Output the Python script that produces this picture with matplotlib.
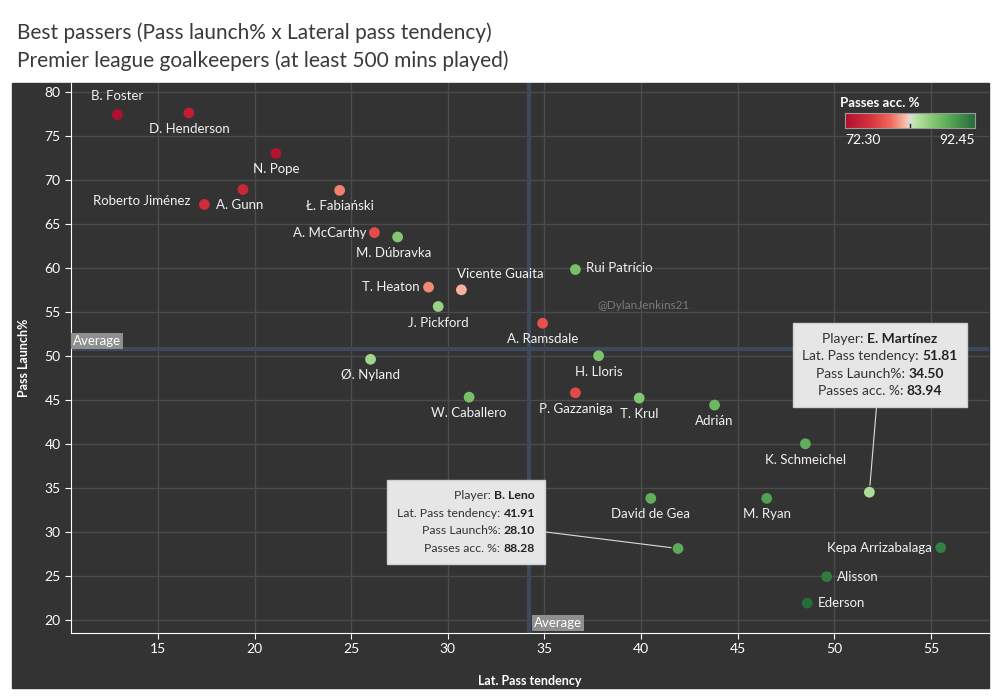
import numpy as np
import matplotlib.pyplot as plt
from matplotlib.colors import LinearSegmentedColormap, Normalize
from matplotlib.patches import Rectangle
from matplotlib.offsetbox import TextArea, HPacker, VPacker, AnnotationBbox

plt.rcParams['font.family'] = ['Lato', 'DejaVu Sans']

# Data
players = ["B. Foster", "D. Henderson", "N. Pope", "A. Gunn", "Roberto Jiménez",
           "Ł. Fabiański", "A. McCarthy", "M. Dúbravka", "Rui Patrício", "Vicente Guaita",
           "T. Heaton", "J. Pickford", "A. Ramsdale", "Ø. Nyland", "H. Lloris",
           "W. Caballero", "P. Gazzaniga", "T. Krul", "Adrián", "K. Schmeichel",
           "E. Martínez", "David de Gea", "M. Ryan", "B. Leno", "Kepa Arrizabalaga",
           "Alisson", "Ederson"]
lat_tendency = [12.9, 16.6, 21.1, 19.4, 17.4,
                24.4, 26.2, 27.4, 36.6, 30.7,
                29.0, 29.5, 34.9, 26.0, 37.8,
                31.1, 36.6, 39.9, 43.8, 48.5,
                51.81, 40.5, 46.5, 41.91, 55.5,
                49.6, 48.6]
pass_launch = [77.4, 77.6, 73.0, 68.9, 67.2,
               68.8, 64.0, 63.5, 59.8, 57.5,
               57.8, 55.6, 53.7, 49.6, 50.0,
               45.3, 45.8, 45.2, 44.4, 40.0,
               34.50, 33.8, 33.8, 28.10, 28.2,
               24.9, 21.9]
pass_acc = [72.3, 74.0, 72.8, 75.0, 75.5,
            80.0, 77.8, 86.0, 86.5, 81.3,
            80.2, 85.0, 78.0, 84.6, 86.3,
            86.6, 77.6, 86.0, 87.3, 88.0,
            83.94, 88.0, 89.0, 88.28, 91.2,
            91.5, 92.45]
acc_min, acc_max = 72.30, 92.45
avg_x, avg_y = 34.2, 50.8

# label offsets (pixels) and alignment
label_pos = {
    "B. Foster": (0, 19, "center"), "Roberto Jiménez": (-14, 3, "right"),
    "A. McCarthy": (-8, 0, "right"), "Rui Patrício": (11, 2, "left"),
    "Vicente Guaita": (-4, 16, "left"), "T. Heaton": (-9, 0, "right"),
    "Kepa Arrizabalaga": (-9, 0, "right"), "Alisson": (10, 0, "left"),
    "Ederson": (10, 0, "left"), "A. Gunn": (-3, -16, "center"),
    "M. Dúbravka": (-4, -16, "center"),
}
no_label = ["E. Martínez", "B. Leno"]

cmap = LinearSegmentedColormap.from_list("rg", [
    (0.0, "#b0102e"), (0.2, "#d9323f"), (0.35, "#f06a5a"), (0.47, "#f9c0ad"),
    (0.5, "#dcdcdc"), (0.55, "#b9e3a2"), (0.7, "#7cc26a"), (0.85, "#4b9a50"),
    (1.0, "#256d3a")])
norm = Normalize(acc_min, acc_max)

dark = "#333333"
fig = plt.figure(figsize=(10, 7), dpi=100, facecolor="white")
fig.patches.append(Rectangle((0.012, 12 / 700), 0.977, (688 - 83) / 700,
                             transform=fig.transFigure, color=dark, zorder=-5))

fig.text(0.017, 0.953, "Best passers (Pass launch% x Lateral pass tendency)",
         fontsize=15, color="#3a3a3a", va="center")
fig.text(0.017, 0.913, "Premier league goalkeepers (at least 500 mins played)",
         fontsize=15, color="#3a3a3a", va="center")

ax = fig.add_axes([0.071, 67 / 700, 0.918, (633 - 83) / 700])
ax.set_facecolor(dark)
ax.set_xlim(10.5, 58)
ax.set_ylim(18.5, 81)
ax.set_xticks(range(15, 60, 5))
ax.set_yticks(range(20, 85, 5))
ax.grid(True, color="#4c4c4c", linewidth=1)
ax.set_axisbelow(True)
for s in ["top", "right"]:
    ax.spines[s].set_visible(False)
for s in ["left", "bottom"]:
    ax.spines[s].set_color("white")
ax.tick_params(colors="white", labelsize=10, length=4)
ax.set_xlabel("Lat. Pass tendency", color="white", fontsize=9, fontweight="bold", labelpad=14)
ax.set_ylabel("Pass Launch%", color="white", fontsize=9, fontweight="bold", labelpad=10)

ax.axhline(avg_y, color="#3d4a5c", linewidth=3, zorder=1)
ax.axvline(avg_x, color="#3d4a5c", linewidth=3, zorder=1)
ax.text(10.6, avg_y + 0.9, "Average", color="white", fontsize=9.5, va="center", ha="left",
        bbox=dict(facecolor="#8f8f8f", edgecolor="none", pad=1.5))
ax.text(avg_x + 0.25, 19.6, "Average", color="white", fontsize=9.5, va="center", ha="left",
        bbox=dict(facecolor="#8f8f8f", edgecolor="none", pad=1.5))

ax.scatter(lat_tendency, pass_launch, c=pass_acc, cmap=cmap, norm=norm, s=60,
           edgecolors="none", zorder=3)

for name, x, y in zip(players, lat_tendency, pass_launch):
    if name in no_label:
        continue
    dx, dy, ha = label_pos.get(name, (0, -16, "center"))
    ax.annotate(name, (x, y), xytext=(dx, dy), textcoords="offset pixels",
                ha=ha, va="center", color="#f2f2f2", fontsize=9.5, zorder=4)

ax.text(40.1, 55.7, "@DylanJenkins21", color="#7a7a7a", fontsize=8.5, ha="center", va="center")


def tooltip(name, x, y, acc, box_xy, align, size, sep):
    rows = [("Player: ", name), ("Lat. Pass tendency: ", f"{x:.2f}"),
            ("Pass Launch%: ", f"{y:.2f}"), ("Passes acc. %: ", f"{acc:.2f}")]
    lines = []
    for lab, val in rows:
        lines.append(HPacker(children=[
            TextArea(lab, textprops=dict(color="#333333", fontsize=size)),
            TextArea(val, textprops=dict(color="#222222", fontsize=size, fontweight="bold"))],
            pad=0, sep=0))
    box = VPacker(children=lines, align=align, pad=0, sep=sep)
    ab = AnnotationBbox(box, (x, y), xybox=box_xy, boxcoords="figure pixels",
                        frameon=True, pad=0.7,
                        bboxprops=dict(facecolor="#e6e6e6", edgecolor="#d0d0d0"),
                        arrowprops=dict(arrowstyle="-", color="#dddddd", lw=0.8,
                                        shrinkA=0, shrinkB=5), zorder=6)
    ax.add_artist(ab)


i = players.index("E. Martínez")
tooltip(players[i], lat_tendency[i], pass_launch[i], pass_acc[i], (880, 700 - 365),
        "center", 10, 4)
i = players.index("B. Leno")
tooltip(players[i], lat_tendency[i], pass_launch[i], pass_acc[i], (466, 700 - 522),
        "right", 8.8, 5)

# colour legend
fig.text(0.840, 1 - 103 / 700, "Passes acc. %", color="white", fontsize=9.5,
         fontweight="bold", va="center")
cax = fig.add_axes([0.845, 1 - 128 / 700, 0.13, 15 / 700])
cax.imshow(np.linspace(0, 1, 256)[None, :], aspect="auto", cmap=cmap,
           extent=[0, 1, 0, 1])
cax.set_xticks([])
cax.set_yticks([])
for s in cax.spines.values():
    s.set_color("#9a9a9a")
cax.plot([0.5, 0.5], [0, 0.25], color="#222222", lw=1)
fig.text(0.845, 1 - 140 / 700, f"{acc_min:.2f}", color="white", fontsize=10, va="center")
fig.text(0.975, 1 - 140 / 700, f"{acc_max:.2f}", color="white", fontsize=10, va="center",
         ha="right")

fig.savefig("out.png", dpi=100, facecolor="white")
